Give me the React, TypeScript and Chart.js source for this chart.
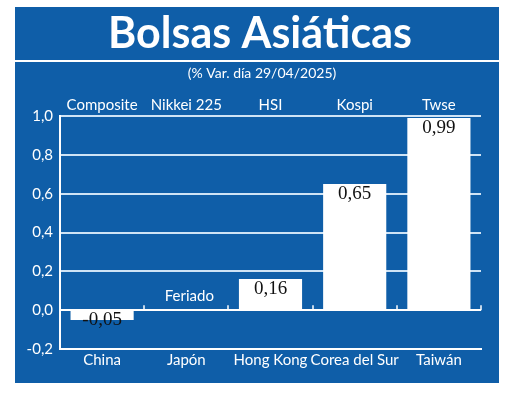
import React, { useEffect, useRef } from "react";
import { Chart, registerables } from "chart.js";
Chart.register(...registerables);

const countries = ["China", "Japón", "Hong Kong", "Corea del Sur", "Taiwán"];
const indices = ["Composite", "Nikkei 225", "HSI", "Kospi", "Twse"];
const values: (number | null)[] = [-0.05, null, 0.16, 0.65, 0.99];
const holidayLabel = "Feriado";
const titleText = "Bolsas Asiáticas";
const subtitleText = "(% Var. día 29/04/2025)";
const yMin = -0.2;
const yMax = 1.0;
const yStep = 0.2;

const BLUE = "#0f5ea8";
const GRID = "#cfe3f5";
const SANS = "Lato, 'Open Sans', sans-serif";
const SERIF = "'Liberation Serif', 'DejaVu Serif', serif";

const fmt = (v: number) => v.toFixed(2).replace(".", ",");

const decorPlugin = {
  id: "decor",
  beforeDraw(chart: any) {
    const ctx = chart.ctx;
    ctx.save();
    ctx.fillStyle = BLUE;
    ctx.fillRect(15, 7, 484, 376);
    ctx.fillStyle = "#ffffff";
    ctx.textAlign = "center";
    ctx.textBaseline = "alphabetic";
    ctx.font = "bold 43px Lato, sans-serif";
    ctx.fillText(titleText, 260, 48);
    ctx.fillRect(15, 60, 484, 2);
    ctx.font = `14px ${SANS}`;
    ctx.textBaseline = "middle";
    ctx.fillText(subtitleText, 262, 73);
    ctx.restore();
  },
  afterDatasetsDraw(chart: any) {
    const ctx = chart.ctx;
    const xs = chart.scales.x;
    const ys = chart.scales.y;
    const area = chart.chartArea;
    const zeroY = ys.getPixelForValue(0);
    const catW = (area.right - area.left) / countries.length;
    ctx.save();
    ctx.strokeStyle = "#ffffff";
    ctx.lineWidth = 1.5;
    for (let i = 1; i <= countries.length; i++) {
      const x = Math.round(area.left + catW * i);
      ctx.beginPath();
      ctx.moveTo(x, zeroY);
      ctx.lineTo(x, zeroY - 5);
      ctx.stroke();
    }
    ctx.fillStyle = "#ffffff";
    ctx.textAlign = "center";
    ctx.textBaseline = "middle";
    ctx.font = `15px ${SANS}`;
    indices.forEach((name, i) => {
      ctx.fillText(name, xs.getPixelForValue(i), 105);
    });
    const meta = chart.getDatasetMeta(0);
    meta.data.forEach((bar: any, i: number) => {
      const v = values[i];
      if (v === null) {
        ctx.fillStyle = "#ffffff";
        ctx.font = `15px ${SANS}`;
        ctx.fillText(holidayLabel, xs.getPixelForValue(i) + 3, zeroY - 14);
      } else {
        ctx.fillStyle = "#111111";
        ctx.font = `19px ${SERIF}`;
        const top = Math.min(bar.y, bar.base);
        ctx.fillText(fmt(v), bar.x, top + 10);
      }
    });
    ctx.restore();
  },
};

export default function App() {
  const ref = useRef<HTMLCanvasElement>(null);
  useEffect(() => {
    if (!ref.current) return;
    const chart = new Chart(ref.current, {
      type: "bar",
      data: {
        labels: countries,
        datasets: [
          {
            data: values as any,
            backgroundColor: "#ffffff",
            borderWidth: 0,
            barPercentage: 0.75,
            categoryPercentage: 1,
          },
        ],
      },
      options: {
        responsive: false,
        animation: false,
        devicePixelRatio: 1,
        layout: { padding: { left: 0, right: 39, top: 116, bottom: 0 } },
        plugins: {
          legend: { display: false },
          tooltip: { enabled: false },
          title: { display: false },
        },
        scales: {
          x: {
            grid: { display: false, drawTicks: false },
            border: { display: true, color: "#ffffff", width: 2 },
            ticks: {
              color: "#ffffff",
              font: { family: SANS, size: 15 },
              padding: 2,
              maxRotation: 0,
              autoSkip: false,
            },
            afterFit: (s: any) => {
              s.height = 49;
            },
          },
          y: {
            min: yMin,
            max: yMax,
            grid: {
              color: (c: any) => (c.tick && Math.abs(c.tick.value) < 1e-9 ? "#ffffff" : GRID),
              lineWidth: 2,
              drawTicks: false,
            },
            border: { display: true, color: "#ffffff", width: 2 },
            ticks: {
              stepSize: yStep,
              color: "#ffffff",
              font: { family: SANS, size: 15 },
              padding: 7,
              callback: (v: any) => {
                const n = Math.round(Number(v) * 10) / 10;
                return (n === 0 ? 0 : n).toFixed(1).replace(".", ",");
              },
            },
            afterFit: (s: any) => {
              s.width = 60;
            },
          },
        },
      },
      plugins: [decorPlugin],
    });
    return () => chart.destroy();
  }, []);
  return (
    <div style={{ position: "absolute", left: 0, top: 0, width: 520, height: 398 }}>
      <canvas ref={ref} width={520} height={398} />
    </div>
  );
}
